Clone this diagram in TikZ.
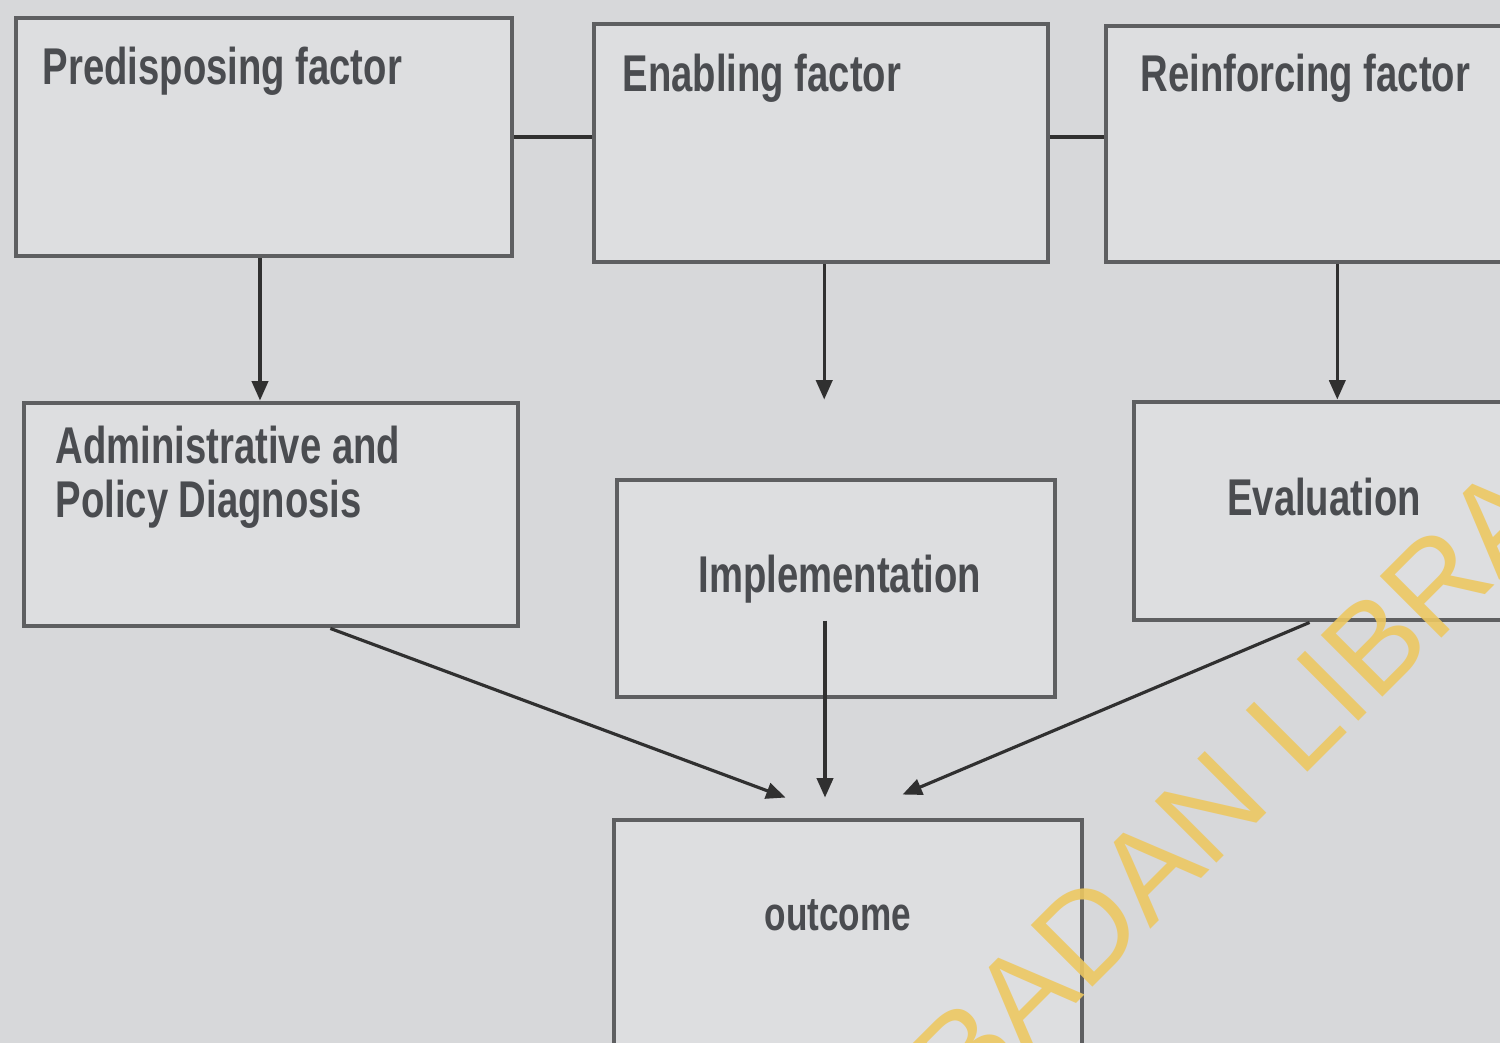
\documentclass[tikz,border=0pt]{standalone}
\usepackage{fontspec}
\newfontfamily\diagfont[FakeStretch=0.74]{Liberation Sans}
\newfontfamily\wmfont{Liberation Sans}
\usetikzlibrary{arrows.meta,fit,calc}
\definecolor{bgcol}{HTML}{D7D8DA}
\definecolor{boxfill}{HTML}{DDDEE0}
\definecolor{boxline}{HTML}{5E5F61}
\definecolor{txtcol}{HTML}{4A4C50}
\definecolor{linecol}{HTML}{303030}
\definecolor{wmcol}{HTML}{EDC862}
\tikzset{
  box/.style={draw=boxline, fill=boxfill, line width=1.4pt, inner sep=0pt, rectangle},
  lbl/.style={text=txtcol, font=\diagfont\bfseries\fontsize{14.7}{17}\selectfont, inner sep=0pt},
  conn/.style={draw=linecol, line width=0.9pt},
  arr/.style={conn, -{Triangle[length=5.5pt,width=4.6pt]}},
  wm/.style={text=wmcol, font=\wmfont\fontsize{36}{40}\selectfont, rotate=45, inner sep=0pt, opacity=0.9}
}
\begin{document}
\begin{tikzpicture}[x=0.01cm,y=-0.01cm]
\useasboundingbox (0,0) rectangle (1500,1043);
\clip (0,0) rectangle (1500,1043);
\fill[bgcol] (0,0) rectangle (1500,1043);

% boxes
\node[box, fit={(16,18)(512,256)}] (A) {};
\node[box, fit={(594,24)(1048,262)}] (B) {};
\node[box, fit={(1106,26)(1530,262)}] (C) {};
\node[box, fit={(24,403)(518,626)}] (D) {};
\node[box, fit={(617,480)(1055,697)}] (E) {};
\node[box, fit={(1134,402)(1530,620)}] (F) {};
\node[box, fit={(614,820)(1082,1080)}] (G) {};

% labels
\node[lbl, anchor=base west] (tA) at (42,85) {Predisposing factor};
\node[lbl, anchor=base west] (tB) at (622,92) {Enabling factor};
\node[lbl, anchor=base west] (tC) at (1140,92) {Reinforcing factor};
\node[lbl, anchor=base west] (tD1) at (55,463) {Administrative and};
\node[lbl, anchor=base west] (tD2) at (55,518) {Policy Diagnosis};
\node[lbl, anchor=base] (tE) at (840,592) {Implementation};
\node[lbl, anchor=base] (tF) at (1324,515) {Evaluation};
\node[lbl, anchor=base] (tG) at (838,930) {\fontsize{13.5}{16}\selectfont outcome};

% horizontal links
\draw[conn] (A.east) -- (A.east -| B.west);
\draw[conn] (B.east |- A.east) -- (A.east -| C.west);

% vertical arrows
\path ($(A.south west)!0.492!(A.south east)$) coordinate (a1);
\draw[arr] (a1) -- (a1 |- D.north);

\path ($(B.south west)!0.507!(B.south east)$) coordinate (b1);
\coordinate (bEnd) at ($(E.north west)+(209,-78)$);
\draw[arr] (b1) -- (b1 |- bEnd);

\path ($(C.south west)!0.545!(C.south east)$) coordinate (c1);
\draw[arr] (c1) -- (c1 |- F.north);

% arrows to outcome
\path ($(D.south west)!0.619!(D.south east)$) coordinate (d1);
\coordinate (gL) at ($(G.north west)+(174,-20)$);
\draw[arr] (d1) -- (gL);

\coordinate (e1) at ($(E.center)+(-11,32)$);
\coordinate (gM) at ($(G.north west)+(212,-20)$);
\draw[arr] (e1) -- (e1 |- gM);

\path ($(F.south west)!0.444!(F.south east)$) coordinate (f1);
\coordinate (gR) at ($(G.north west)+(291,-23)$);
\draw[arr] (f1) -- (gR);

% watermark
\node[wm, anchor=base west] (wmL) at (1300,780) {LIBRARY};
\node[wm, anchor=base east] (wmI) at ($(wmL.base west)+(-25,25)$) {IBADAN};
\end{tikzpicture}
\end{document}
